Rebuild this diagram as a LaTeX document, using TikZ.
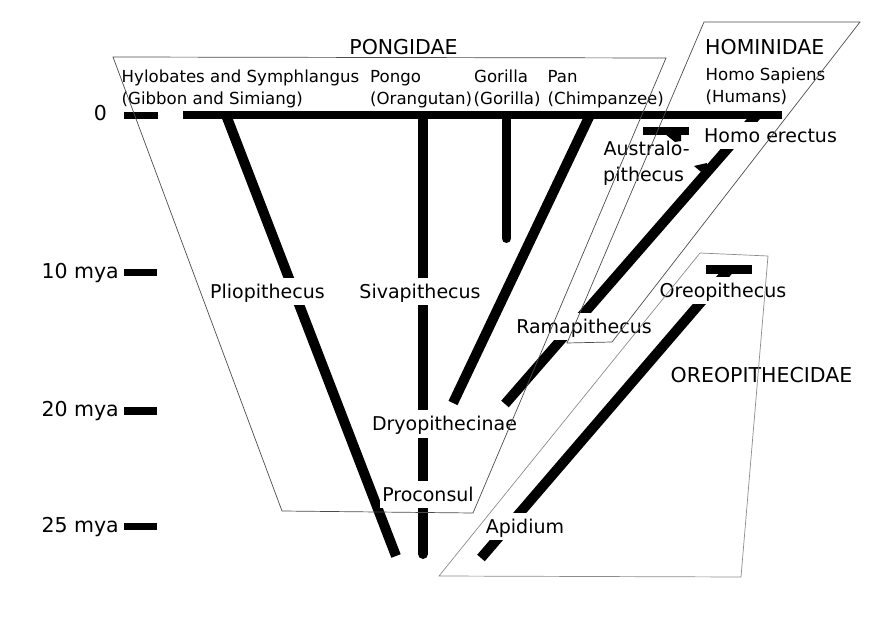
\documentclass[tikz,border=0pt]{standalone}
\usepackage{fontspec}
\setmainfont{DejaVu Sans}
\newcommand\LblSmall{\fontsize{16.6}{20}\selectfont}
\newcommand\LblMed{\fontsize{19}{22}\selectfont}
\newcommand\LblBig{\fontsize{20.5}{24}\selectfont}
\begin{document}
\begin{tikzpicture}[x=1pt,y=-1pt,
  bigline/.style={line width=10pt},
  tickmark/.style={line width=7pt},
  grp/.style={draw=black!70, line width=0.7pt, line join=miter},
  grpl/.style={draw=black!45, line width=0.7pt, line join=miter},
  cut/.style={fill=white, inner xsep=2pt, inner ysep=2pt, text height=18.5pt, text depth=4.5pt, font=\LblMed, anchor=base},
  plain/.style={font=\LblMed, inner sep=0pt, anchor=base west},
  hdr/.style={font=\LblSmall, inner sep=0pt, anchor=base west},
  ttl/.style={font=\LblBig, inner sep=0pt},
  tlab/.style={font=\LblBig, inner sep=0pt, anchor=base east}]
\useasboundingbox (0,0) rectangle (876,620);

% time axis
\node[ttl, anchor=base] (t0) at (100.5,121) {0};
\node[tlab] (t10) at (119,279) {10 mya};
\node[tlab] (t20) at (119,417) {20 mya};
\node[tlab] (t25) at (119,532) {25 mya};
\draw[line width=7.5pt] (124,115.5) -- (158,115.5);
\draw[tickmark] (124,273) -- (157,273);
\draw[tickmark] (124,411) -- (157,411);
\draw[tickmark] (124,526) -- (157,526);

% present-day bar
\draw[line width=8pt] (183,115.5) -- (782,115.5);

% lineages
\draw[bigline] (226,115) -- (396,556);
\draw[bigline, line cap=round] (423,120) -- (423,554);
\draw[line width=9pt, line cap=round] (506.5,120) -- (506.5,238.5);
\draw[bigline] (590,115) -- (453,403);
\draw[bigline] (505,404) -- (756,116);
\draw[bigline] (481,558) -- (729,269.5);
\draw[line width=8pt] (643,131) -- (689,131);
\draw[line width=9pt] (706,269.5) -- (752,269.5);

% labels interrupting lineages
\node[cut] (plio) at (267.5,299) {Pliopithecus};
\node[cut] (siva) at (420,299) {Sivapithecus};
\node[cut] (dryo) at (444.5,431) {Dryopithecinae};
\node[cut] (proc) at (428,501) {Proconsul};
\node[cut] (rama) at (584,334) {Ramapithecus};
\node[cut] (oreo) at (723,298) {Oreopithecus};
\node[cut] (apid) at (525,533) {Apidium};
\node[cut, anchor=base west, inner xsep=0pt] (erec) at (704,143) {Homo erectus};

% small joints
\fill (665,134) -- (681,134) -- (681,141) -- (675,142) -- cycle;
\fill (694,166) -- (707,163) -- (707,177) -- cycle;

% other labels
\node[plain] (aus1) at (603.5,156) {Australo-};
\node[plain] (aus2) at (603,182) {pithecus};
\node[hdr] (hy1) at (121.5,83) {Hylobates and Symphlangus};
\node[hdr] (hy2) at (121.5,105) {(Gibbon and Simiang)};
\node[hdr] (po1) at (370,83) {Pongo};
\node[hdr] (po2) at (370,105) {(Orangutan)};
\node[hdr] (go1) at (474,83) {Gorilla};
\node[hdr] (go2) at (473.5,105) {(Gorilla)};
\node[hdr] (pa1) at (547.5,83) {Pan};
\node[hdr] (pa2) at (547.5,105) {(Chimpanzee)};
\node[hdr] (hs1) at (705.5,81) {Homo Sapiens};
\node[hdr] (hs2) at (705.5,103) {(Humans)};
\node[ttl, anchor=base] (pong) at (403.5,55) {PONGIDAE};
\node[ttl, anchor=base west] (homi) at (705,55) {HOMINIDAE};
\node[ttl, anchor=base] (oreoF) at (761.5,383) {OREOPITHECIDAE};

% family outlines
\draw[grp] (113,57) -- (666,58) -- (473,513) -- (282,511) -- cycle;
\draw[grp] (704,22) -- (860,22) -- (612,342) -- (567,343) -- cycle;
\draw[grpl] (700,253) -- (768,256) -- (741,577) -- (439,576) -- cycle;
\end{tikzpicture}
\end{document}
